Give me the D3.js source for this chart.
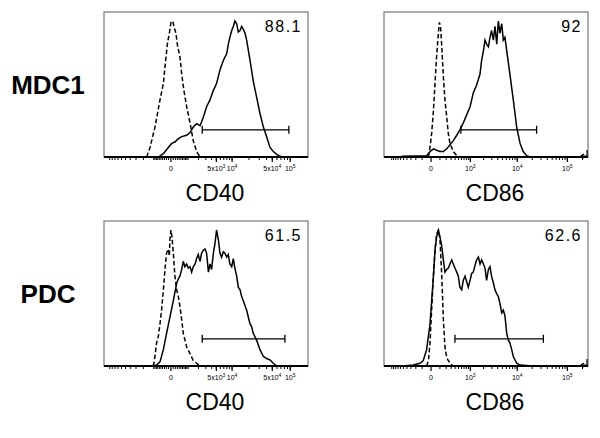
<!DOCTYPE html>
<html>
<head>
<meta charset="utf-8">
<script src="https://cdn.jsdelivr.net/npm/d3@7"></script>
<style>
  body { margin: 0; background: #fff; }
  svg { font-family: "Liberation Sans", Arial, Helvetica, sans-serif; }
</style>
</head>
<body>
<svg id="chart" width="600" height="438"></svg>
<script>
const rowNames = ["MDC1", "PDC"];
const markerNames = ["CD40", "CD86"];
const gateFreq = [["88.1", "92"], ["61.5", "62.6"]];

// histograms: [display channel (0-1024), % of max]
const mdc1Cd40Iso = [[214,0],[231,7],[256,22],[281,42],[298,54],[306,66],[318,83],[328,91],[336,99],[345,100],[351,96],[361,91],[370,81],[381,74],[390,61],[401,49],[415,37],[432,25],[448,12],[465,4],[482,0]];
const mdc1Cd40 = [[273,0],[298,2.5],[323,7],[340,10],[356,11],[373,13.5],[390,15],[415,16],[432,18],[448,22],[465,24.5],[482,23],[498,29],[515,37],[532,42],[549,49],[565,54],[582,64],[599,71],[616,76],[624,83],[632,88],[641,93],[649,96],[657,100],[666,98],[674,92],[683,93],[691,96],[699,94],[708,91],[716,86],[733,71],[749,56],[766,44],[783,32],[800,22],[816,15],[833,7],[850,4],[867,2],[883,0.5],[900,0]];
const mdc1Cd86Iso = [[223,0],[231,7],[239,17],[248,34],[256,54],[264,74],[273,91],[278,99],[284,96],[290,81],[298,59],[306,42],[315,29],[323,17],[331,10],[348,4],[365,1],[381,0]];
const mdc1Cd86 = [[89,0.5],[214,1],[231,4],[248,6],[264,5],[281,4],[298,4],[315,6],[331,9],[348,12],[365,16],[381,20],[398,25],[415,31],[432,37],[448,47],[465,53],[482,61],[490,71],[499,78],[507,86],[515,83],[524,81],[532,88],[540,93],[549,86],[557,96],[566,83],[574,100],[582,91],[591,98],[599,86],[607,88],[616,78],[632,61],[649,42],[666,22],[683,10],[699,4],[716,1],[733,0]];
const pdcCd40Iso = [[248,0],[256,7],[264,17],[273,22],[281,31],[289,41],[298,56],[306,71],[314,83],[323,86],[328,81],[331,93],[336,100],[341,95],[348,83],[356,66],[365,56],[373,51],[381,44],[390,34],[398,24],[415,14],[432,9],[448,4],[465,2],[482,0]];
const pdcCd40 = [[231,0],[264,0.7],[281,3],[298,12],[314,24],[331,36],[348,48],[365,61],[373,64],[381,66],[390,71],[398,77],[406,73],[415,75],[423,72],[432,73],[440,69],[448,73],[457,75],[465,79],[473,82],[482,77],[490,83],[498,85],[507,86],[515,83],[524,69],[532,75],[540,71],[549,83],[557,90],[565,100],[574,93],[582,83],[590,80],[599,84],[607,83],[616,80],[624,82],[632,75],[641,73],[649,79],[657,72],[666,66],[674,58],[683,56],[691,51],[699,48],[716,41],[733,31],[741,29],[749,24],[766,19],[783,12],[800,7],[816,5.5],[833,4.5],[850,2],[867,0]];
const pdcCd86Iso = [[214,0],[223,4],[231,17],[239,41],[248,66],[256,85],[264,97],[273,100],[281,93],[290,66],[298,34],[306,14],[315,6],[331,2],[348,0]];
const pdcCd86 = [[89,0],[147,0.7],[181,2],[197,4],[214,12],[231,31],[248,66],[256,85],[264,95],[273,100],[281,95],[290,88],[298,78],[306,69],[315,71],[323,72],[331,75],[340,78],[348,75],[356,72],[365,69],[373,66],[381,58],[390,56],[398,63],[407,66],[415,62],[423,58],[432,63],[440,68],[448,69],[457,74],[465,78],[474,80],[482,75],[490,78],[499,75],[507,72],[515,63],[524,71],[532,73],[540,66],[549,61],[557,56],[566,53],[574,51],[582,46],[591,39],[599,41],[607,37],[616,24],[624,19],[632,17],[641,12],[649,7],[666,2],[683,0.7],[750,0]];

// gate ranges in display channels
const gateRanges = [[[493, 928], [386, 766]], [[493, 908], [356, 800]]];

const cd40Ticks = [0, 5e3, 1e4, 5e4, 1e5];
const cd40TickLabels = [["0", ""], ["5x10", "3"], ["10", "4"], ["5x10", "4"], ["10", "5"]];
const cd86Ticks = [0, 1e3, 1e4, 1e5];
const cd86TickLabels = [["0", ""], ["10", "3"], ["10", "4"], ["10", "5"]];

const histData = [
  [[mdc1Cd40Iso, mdc1Cd40], [mdc1Cd86Iso, mdc1Cd86]],
  [[pdcCd40Iso, pdcCd40], [pdcCd86Iso, pdcCd86]],
];

// biexponential-ish display transforms (value -> channel)
const axisScales = [
  d3.scaleSymlog().constant(1080).domain([-12700, 197900]).range([0, 1024]),
  d3.scaleSymlog().constant(200).domain([-1508, 257000]).range([0, 1024]),
];
const axisTicks = [cd40Ticks, cd86Ticks];
const axisLabels = [cd40TickLabels, cd86TickLabels];
const offScaleMark = [false, true];

const colX = [104, 384];
const rowY = [12, 221];
const w = 204;
const h = 145;

const svg = d3.select("#chart");

const x = d3.scaleLinear().domain([0, 1024]).range([0, w]);
const y = d3.scaleLinear().domain([0, 100]).range([h, 9]);
const line = d3.line().x((d) => x(d[0])).y((d) => y(d[1]));

rowNames.forEach((name, r) => {
  svg
    .append("text")
    .attr("x", 48)
    .attr("y", rowY[r] + 82)
    .attr("text-anchor", "middle")
    .style("font-size", "26px")
    .style("font-weight", "bold")
    .text(name);

  markerNames.forEach((marker, c) => {
    const g = svg
      .append("g")
      .attr("transform", `translate(${colX[c]}, ${rowY[r]})`);

    g.append("rect")
      .attr("width", w)
      .attr("height", h)
      .attr("fill", "none")
      .attr("stroke", "#777")
      .attr("stroke-width", 1.2);

    const [iso, stain] = histData[r][c];
    g.append("path")
      .datum(iso)
      .attr("d", line)
      .attr("fill", "none")
      .attr("stroke", "#000")
      .attr("stroke-width", 1.5)
      .attr("stroke-dasharray", "4.5,2.5");
    g.append("path")
      .datum(stain)
      .attr("d", line)
      .attr("fill", "none")
      .attr("stroke", "#000")
      .attr("stroke-width", 1.5);

    // gate bar
    const [g0, g1] = gateRanges[r][c];
    const gy = y(20);
    g.append("path")
      .attr("d", `M${x(g0)},${gy}H${x(g1)}M${x(g0)},${gy - 4}V${gy + 4}M${x(g1)},${gy - 4}V${gy + 4}`)
      .attr("stroke", "#000")
      .attr("stroke-width", 1.3)
      .attr("fill", "none");

    g.append("text")
      .attr("x", w - 6)
      .attr("y", 20)
      .attr("text-anchor", "end")
      .style("font-size", "16px")
      .style("letter-spacing", "1.5px")
      .text(gateFreq[r][c]);

    // x axis
    const s = axisScales[c];
    const [lo, hi] = s.domain();
    const minor = [];
    for (let n = 2; n <= 5; n++) {
      for (let m = 1; m <= 9; m++) {
        const v = m * Math.pow(10, n);
        if (v <= hi) minor.push(v);
        if (-v >= lo) minor.push(-v);
      }
    }
    g.selectAll(".minor")
      .data(minor)
      .enter()
      .append("line")
      .attr("x1", (d) => x(s(d)))
      .attr("x2", (d) => x(s(d)))
      .attr("y1", h)
      .attr("y2", h + 3)
      .attr("stroke", "#000")
      .attr("stroke-width", 1);
    g.selectAll(".major")
      .data(axisTicks[c])
      .enter()
      .append("line")
      .attr("x1", (d) => x(s(d)))
      .attr("x2", (d) => x(s(d)))
      .attr("y1", h)
      .attr("y2", h + 5)
      .attr("stroke", "#000")
      .attr("stroke-width", 1.2);
    g.append("line")
      .attr("x1", 0)
      .attr("x2", w)
      .attr("y1", h)
      .attr("y2", h)
      .attr("stroke", "#000")
      .attr("stroke-width", 2);

    if (offScaleMark[c]) {
      g.append("path")
        .attr("d", `M${w - 1},${h - 7}V${h - 1}H${w - 7}M${w - 4},${h - 3}L${w - 7},${h - 1}L${w - 4},${h + 1}`)
        .attr("stroke", "#000")
        .attr("stroke-width", 1.2)
        .attr("fill", "none");
    }

    const labels = g
      .selectAll(".tl")
      .data(axisTicks[c])
      .enter()
      .append("text")
      .attr("x", (d) => x(s(d)))
      .attr("y", h + 14)
      .attr("text-anchor", "middle")
      .style("font-size", "7px");
    labels.each(function (d, i) {
      const [base, exp] = axisLabels[c][i];
      const t = d3.select(this);
      t.append("tspan").text(base);
      if (exp) {
        t.append("tspan")
          .attr("dy", -3)
          .style("font-size", "5px")
          .text(exp);
      }
    });

    g.append("text")
      .attr("x", w / 2 + 9)
      .attr("y", h + 44)
      .attr("text-anchor", "middle")
      .style("font-size", "23px")
      .text(marker);
  });
});
</script>
</body>
</html>
